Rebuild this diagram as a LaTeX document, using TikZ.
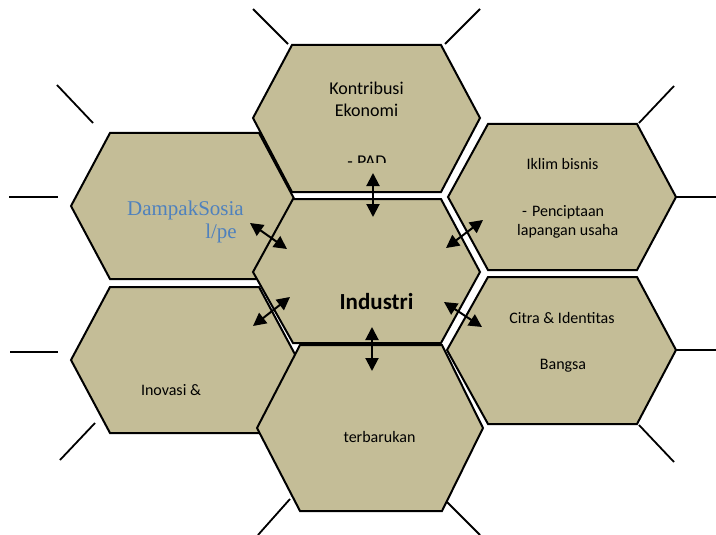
\documentclass[tikz,border=0pt]{standalone}
\usepackage{fontspec}
\setmainfont{Carlito}
\newfontfamily\dsfont{Liberation Serif}
\usetikzlibrary{arrows.meta}
\definecolor{hexfill}{HTML}{C4BD97}
\definecolor{dsblue}{HTML}{4F81BD}
\tikzset{
  hexa/.style={draw=black, line width=2pt, fill=hexfill, line join=miter},
  spoke/.style={draw=black, line width=1.8pt},
  dblarrow/.style={line width=2pt, {Triangle[length=13pt,width=13pt]}-{Triangle[length=13pt,width=13pt]}},
  lbl/.style={anchor=base, inner sep=0pt, text=black, font=\fontsize{16}{20}\selectfont},
  lblbig/.style={anchor=base, inner sep=0pt, text=black, font=\fontsize{18}{22}\selectfont},
}
\begin{document}
\begin{tikzpicture}[x=1pt,y=-1pt]
\useasboundingbox (0,0) rectangle (716,535);
% spokes
\draw[spoke] (253,9) -- (288,44);
\draw[spoke] (445,44) -- (480,9);
\draw[spoke] (57,85) -- (93,123);
\draw[spoke] (9,197) -- (58,197);
\draw[spoke] (10,352) -- (58,352);
\draw[spoke] (95,423) -- (60,460);
\draw[spoke] (639,123) -- (674,86);
\draw[spoke] (676,197) -- (716,197);
\draw[spoke] (676,350) -- (716,350);
\draw[spoke] (639,425) -- (674,462);
\draw[spoke] (290,499) -- (258,535);
\draw[spoke] (446,501) -- (480,535);
% hexagons
\draw[hexa] (71,206) -- (110,133) -- (259,133) -- (298,206) -- (259,279) -- (110,279) -- cycle;
\draw[hexa] (71,360) -- (110,287) -- (259,287) -- (298,360) -- (259,433) -- (110,433) -- cycle;
\draw[hexa] (253,118) -- (292,45) -- (441,45) -- (480,118) -- (441,192) -- (292,192) -- cycle;
\draw[hexa] (253,272) -- (293,199) -- (441,199) -- (480,272) -- (441,343) -- (293,343) -- cycle;
\draw[hexa] (257,428) -- (300,345) -- (442,345) -- (483,428) -- (442,511) -- (300,511) -- cycle;
\draw[hexa] (448,197) -- (488,124) -- (637,124) -- (676,197) -- (637,270) -- (488,270) -- cycle;
\draw[hexa] (447,350) -- (488,277) -- (637,277) -- (676,350) -- (637,424) -- (488,424) -- cycle;
% texts
\node[lblbig] (k1) at (366.5,95) {Kontribusi};
\node[lblbig] (k2) at (366.5,117) {Ekonomi};
\begin{scope}
  \clip (253,45) rectangle (480,163);
  \node[lblbig] (pad) at (367,167.5) {- PAD};
\end{scope}
\node[anchor=base east, inner sep=0pt, text=dsblue, font=\dsfont\fontsize{21}{23}\selectfont] (ds1) at (244,215) {DampakSosia};
\node[anchor=base east, inner sep=0pt, text=dsblue, font=\dsfont\fontsize{21}{23}\selectfont] (ds2) at (237,238) {l/pe};
\node[lbl] (ik1) at (562.5,170) {Iklim bisnis};
\node[lbl, anchor=base west] (ik2) at (522,216) {-\hspace{5pt}Penciptaan};
\node[lbl, anchor=base west] (ik3) at (517,235) {lapangan usaha};
\node[anchor=base, inner sep=0pt, text=black, font=\bfseries\fontsize{23}{27}\selectfont] (ind) at (376.5,309) {Industri};
\node[lbl] (ct1) at (562,323) {Citra \& Identitas};
\node[lbl] (ct2) at (563,369) {Bangsa};
\node[lbl] (inv) at (171,395) {Inovasi \&};
\node[lbl] (ter) at (379.5,442) {terbarukan};
% arrow endpoints
\coordinate (a1) at (373,173); \coordinate (b1) at (373,217);
\coordinate (a2) at (250,223); \coordinate (b2) at (287,249);
\coordinate (a3) at (483,220); \coordinate (b3) at (446,248);
\coordinate (a4) at (253,326); \coordinate (b4) at (290,297);
\coordinate (a5) at (444,302); \coordinate (b5) at (482,327);
\coordinate (a6) at (372,327); \coordinate (b6) at (372,371);
\draw[dblarrow] (a1) -- (b1);
\draw[dblarrow] (a2) -- (b2);
\draw[dblarrow] (a3) -- (b3);
\draw[dblarrow] (a4) -- (b4);
\draw[dblarrow] (a5) -- (b5);
\draw[dblarrow] (a6) -- (b6);
\end{tikzpicture}
\end{document}
